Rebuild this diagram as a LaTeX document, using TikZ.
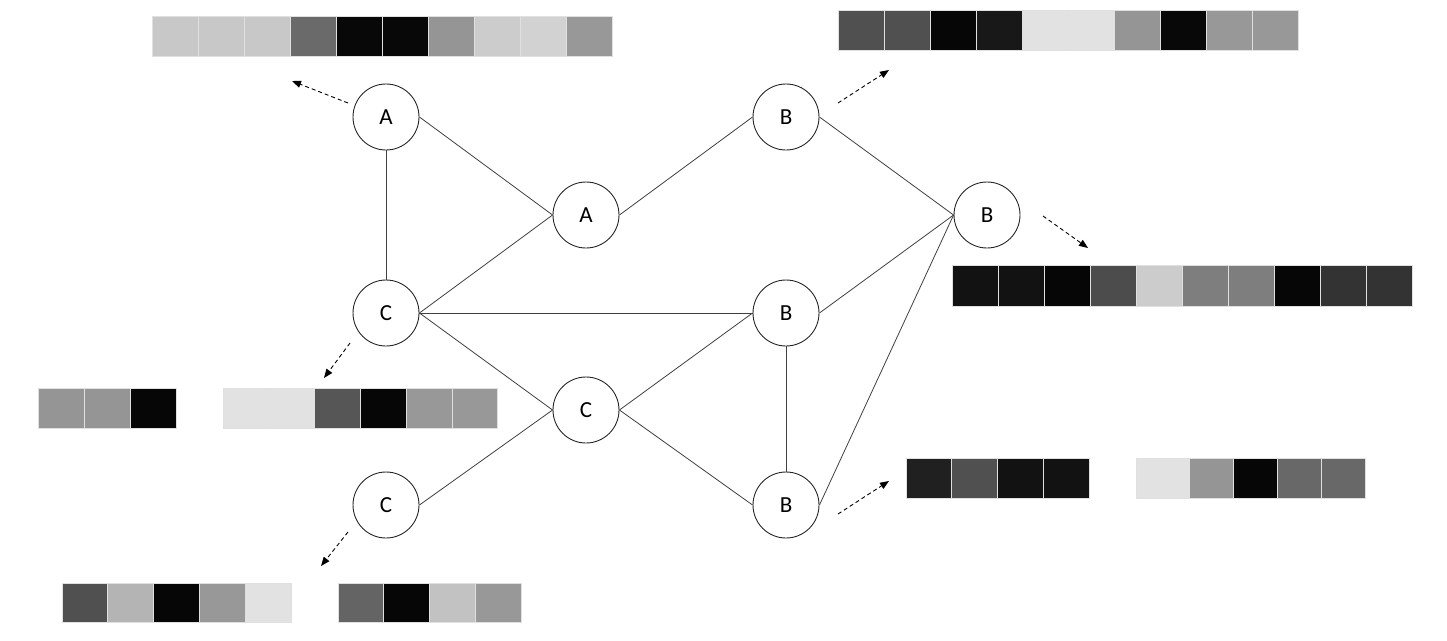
\documentclass[tikz,border=0pt]{standalone}
\usepackage{fontspec}
\setmainfont{Carlito}
\usetikzlibrary{arrows.meta}
\tikzset{
  vnode/.style={circle, draw=black!85, line width=0.9pt, minimum size=66pt, inner sep=0pt, font=\fontsize{23}{23}\selectfont},
  edge/.style={draw=black!75, line width=0.8pt},
  ptr/.style={draw=black, line width=0.9pt, dash pattern=on 4pt off 3pt, -{Triangle[length=9pt,width=7pt]}},
  cellb/.style={draw=black!12, line width=0.8pt}
}
\newcommand\cellbar[5]{% x0, y0, height, width, list of gray values
  \foreach \c [count=\i from 0] in {#5} {
    \path[cellb, fill={rgb,255:red,\c;green,\c;blue,\c}] ({#1+\i*#4},#2) rectangle ++(#4,#3);
  }}
\begin{document}
\begin{tikzpicture}[x=1pt,y=-1pt]
\useasboundingbox (0,0) rectangle (1447,640);
% nodes
\node[vnode] (A1) at (386,117) {A};
\node[vnode] (A2) at (586,215) {A};
\node[vnode] (B1) at (786,117) {B};
\node[vnode] (B4) at (987,215) {B};
\node[vnode] (C1) at (386,313) {C};
\node[vnode] (B2) at (786,313) {B};
\node[vnode] (C2) at (586,410) {C};
\node[vnode] (C3) at (386,505) {C};
\node[vnode] (B3) at (786,505) {B};
% edges
\draw[edge] (A1.east) -- (A2.west);
\draw[edge] (A1.south) -- (C1.north);
\draw[edge] (C1.east) -- (A2.west);
\draw[edge] (A2.east) -- (B1.west);
\draw[edge] (B1.east) -- (B4.west);
\draw[edge] (C1.east) -- (B2.west);
\draw[edge] (C1.east) -- (C2.west);
\draw[edge] (C3.east) -- (C2.west);
\draw[edge] (C2.east) -- (B2.west);
\draw[edge] (C2.east) -- (B3.west);
\draw[edge] (B2.south) -- (B3.north);
\draw[edge] (B2.east) -- (B4.west);
\draw[edge] (B3.east) -- (B4.west);
% dashed pointers
\coordinate (pA1s) at (348,103); \coordinate (pA1e) at (292,81);
\coordinate (pB1s) at (838,103); \coordinate (pB1e) at (889,70);
\coordinate (pB4s) at (1043,216); \coordinate (pB4e) at (1088,248);
\coordinate (pC1s) at (350,343); \coordinate (pC1e) at (324,378);
\coordinate (pC3s) at (348,532); \coordinate (pC3e) at (321,566);
\coordinate (pB3s) at (838,514); \coordinate (pB3e) at (889,481);
\draw[ptr] (pA1s) -- (pA1e);
\draw[ptr] (pB1s) -- (pB1e);
\draw[ptr] (pB4s) -- (pB4e);
\draw[ptr] (pC1s) -- (pC1e);
\draw[ptr] (pC3s) -- (pC3e);
\draw[ptr] (pB3s) -- (pB3e);
% bars
\cellbar{152}{16}{40}{46}{200,200,200,106,8,8,149,204,210,152}
\cellbar{838}{10}{40}{46}{80,80,6,24,226,226,149,8,152,152}
\cellbar{952}{265}{41}{46}{18,18,6,76,204,126,126,6,51,51}
\cellbar{38}{388}{40}{46}{149,149,6}
\cellbar{223}{388}{40}{45.8}{226,226,86,6,152,152}
\cellbar{906}{458}{40}{45.75}{32,80,18,18}
\path[cellb, fill={rgb,255:red,226;green,226;blue,226}] (1136,458) rectangle (1189,498);
\cellbar{1189}{458}{40}{44}{149,6,104,104}
\cellbar{62}{583}{39}{45.8}{80,180,6,152,226}
\cellbar{338}{583}{39}{45.75}{100,6,194,152}
\end{tikzpicture}
\end{document}
